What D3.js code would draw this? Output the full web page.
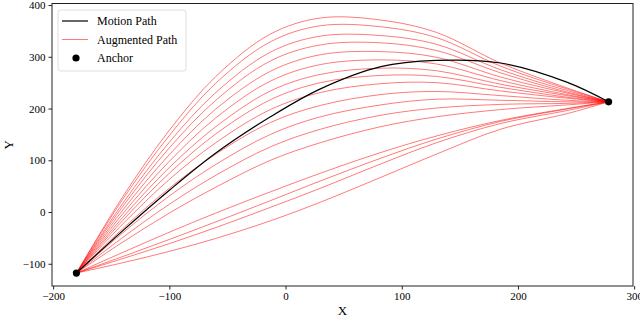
<!DOCTYPE html>
<html>
<head>
<meta charset="UTF-8">
<style>
	body { margin: 0; background: #fff; }
	svg { display: block; }
	text { font-family: "Liberation Serif", "DejaVu Serif", serif; fill: #000; }
	.red { fill: none; stroke: #ff0000; stroke-width: 0.7; stroke-opacity: 0.75; }
	.black { fill: none; stroke: #000; stroke-width: 1.2; }
</style>
<script src="https://cdn.jsdelivr.net/npm/d3@7"></script>
</head>
<body>
<div id="chart"></div>
<script>

// x positions where every path is sampled
var xKnots = [-180, -140, -100, -60, -13, 30, 82, 130, 185, 242, 278];

// the motion path (black)
var motionPath = [-118, -36, 42, 114, 184, 238, 281, 293, 288, 251, 213];

// augmented paths, upper bundle
var upperPaths = [
	[-118, 30, 158, 262, 344, 375, 371, 347, 288, 240, 213],
	[-118, 25, 148, 249, 329, 360, 358, 337, 282, 238, 213],
	[-118, 17, 135, 231, 309, 340, 341, 324, 275, 235, 213],
	[-118, 11, 124, 216, 292, 323, 327, 312, 269, 232, 213],
	[-118, 4, 111, 199, 272, 304, 310, 299, 261, 230, 213],
	[-118, -3, 98, 182, 253, 285, 294, 286, 254, 227, 213],
	[-118, -10, 86, 165, 234, 266, 278, 273, 247, 225, 213],
	[-118, -16, 75, 151, 217, 250, 264, 262, 241, 222, 213],
	[-118, -23, 63, 134, 198, 231, 248, 250, 234, 220, 213],
	[-118, -32, 46, 112, 173, 206, 227, 233, 225, 216, 213],
	[-118, -40, 31, 92, 150, 184, 207, 218, 216, 213, 213],
	[-118, -49, 15, 71, 126, 160, 187, 201, 208, 210, 213],
	[-118, -58, -2, 48, 100, 134, 165, 184, 198, 207, 213]
];

// augmented paths, lower bundle
var lowerPaths = [
	[-118, -78, -39, -2, 39, 75, 115, 147, 177, 200, 213],
	[-118, -86, -53, -19, 22, 60, 104, 141, 175, 199, 213],
	[-118, -90, -61, -30, 9, 46, 93, 134, 171, 196, 213],
	[-118, -98, -76, -51, -17, 19, 67, 112, 160, 190, 213]
];

// anchors at both ends
var anchorX = [-180, 278];
var anchorY = [-118, 213];

var xTicks = [-200, -100, 0, 100, 200, 300];
var yTicks = [-100, 0, 100, 200, 300, 400];

var legendLabels = ["Motion Path", "Augmented Path", "Anchor"];

var W = 640, H = 321;
var mLeft = 52, mRight = 633, mTop = 3.5, mBottom = 286;

var svg = d3.select("#chart").append("svg")
	.attr("width", W)
	.attr("height", H);

var x = d3.scaleLinear().domain([-201, 299]).range([mLeft, mRight]);
var y = d3.scaleLinear().domain([-143, 403]).range([mBottom, mTop]);

var line = d3.line()
	.x(function(d, i){ return x(xKnots[i]); })
	.y(function(d){ return y(d); })
	.curve(d3.curveCatmullRom.alpha(0.5));

var plot = svg.append("g");

upperPaths.concat(lowerPaths).forEach(function(p){
	plot.append("path").attr("class", "red").attr("d", line(p));
});

plot.append("path").attr("class", "black").attr("d", line(motionPath));

plot.selectAll("circle.anchor")
	.data(anchorX)
	.enter().append("circle")
	.attr("class", "anchor")
	.attr("cx", function(d){ return x(d); })
	.attr("cy", function(d, i){ return y(anchorY[i]); })
	.attr("r", 3.6)
	.attr("fill", "#000");

// frame
svg.append("rect")
	.attr("x", mLeft).attr("y", mTop)
	.attr("width", mRight - mLeft).attr("height", mBottom - mTop)
	.attr("fill", "none").attr("stroke", "#222").attr("stroke-width", 1);

var xAxis = svg.append("g")
	.attr("transform", "translate(0," + mBottom + ")")
	.call(d3.axisBottom(x).tickValues(xTicks).tickSize(3.5).tickPadding(3));

var yAxis = svg.append("g")
	.attr("transform", "translate(" + mLeft + ",0)")
	.call(d3.axisLeft(y).tickValues(yTicks).tickSize(3.5).tickPadding(3));

[xAxis, yAxis].forEach(function(a){
	a.select(".domain").remove();
	a.selectAll("line").attr("stroke", "#222");
	a.selectAll("text")
		.style("font-family", "'Liberation Serif', serif")
		.style("font-size", "11px")
		.attr("fill", "#000");
});

svg.append("text")
	.attr("x", (mLeft + mRight) / 2).attr("y", 315)
	.attr("text-anchor", "middle")
	.style("font-size", "13px")
	.text("X");

svg.append("text")
	.attr("transform", "translate(13," + ((mTop + mBottom) / 2) + ") rotate(-90)")
	.attr("text-anchor", "middle")
	.style("font-size", "13px")
	.text("Y");

// legend
var lg = svg.append("g").attr("transform", "translate(58,10)");
lg.append("rect")
	.attr("width", 128).attr("height", 61)
	.attr("rx", 2.5)
	.attr("fill", "#fff").attr("fill-opacity", 0.85)
	.attr("stroke", "#d6d6d6").attr("stroke-width", 0.8);

lg.append("line").attr("x1", 4).attr("x2", 30).attr("y1", 11).attr("y2", 11)
	.attr("class", "black");
lg.append("line").attr("x1", 4).attr("x2", 30).attr("y1", 29.5).attr("y2", 29.5)
	.attr("class", "red");
lg.append("circle").attr("cx", 18).attr("cy", 48).attr("r", 3.6).attr("fill", "#000");

lg.selectAll("text.lab")
	.data(legendLabels)
	.enter().append("text")
	.attr("class", "lab")
	.attr("x", 39)
	.attr("y", function(d, i){ return 15 + i * 18.5; })
	.style("font-size", "12px")
	.text(function(d){ return d; });

</script>
</body>
</html>
